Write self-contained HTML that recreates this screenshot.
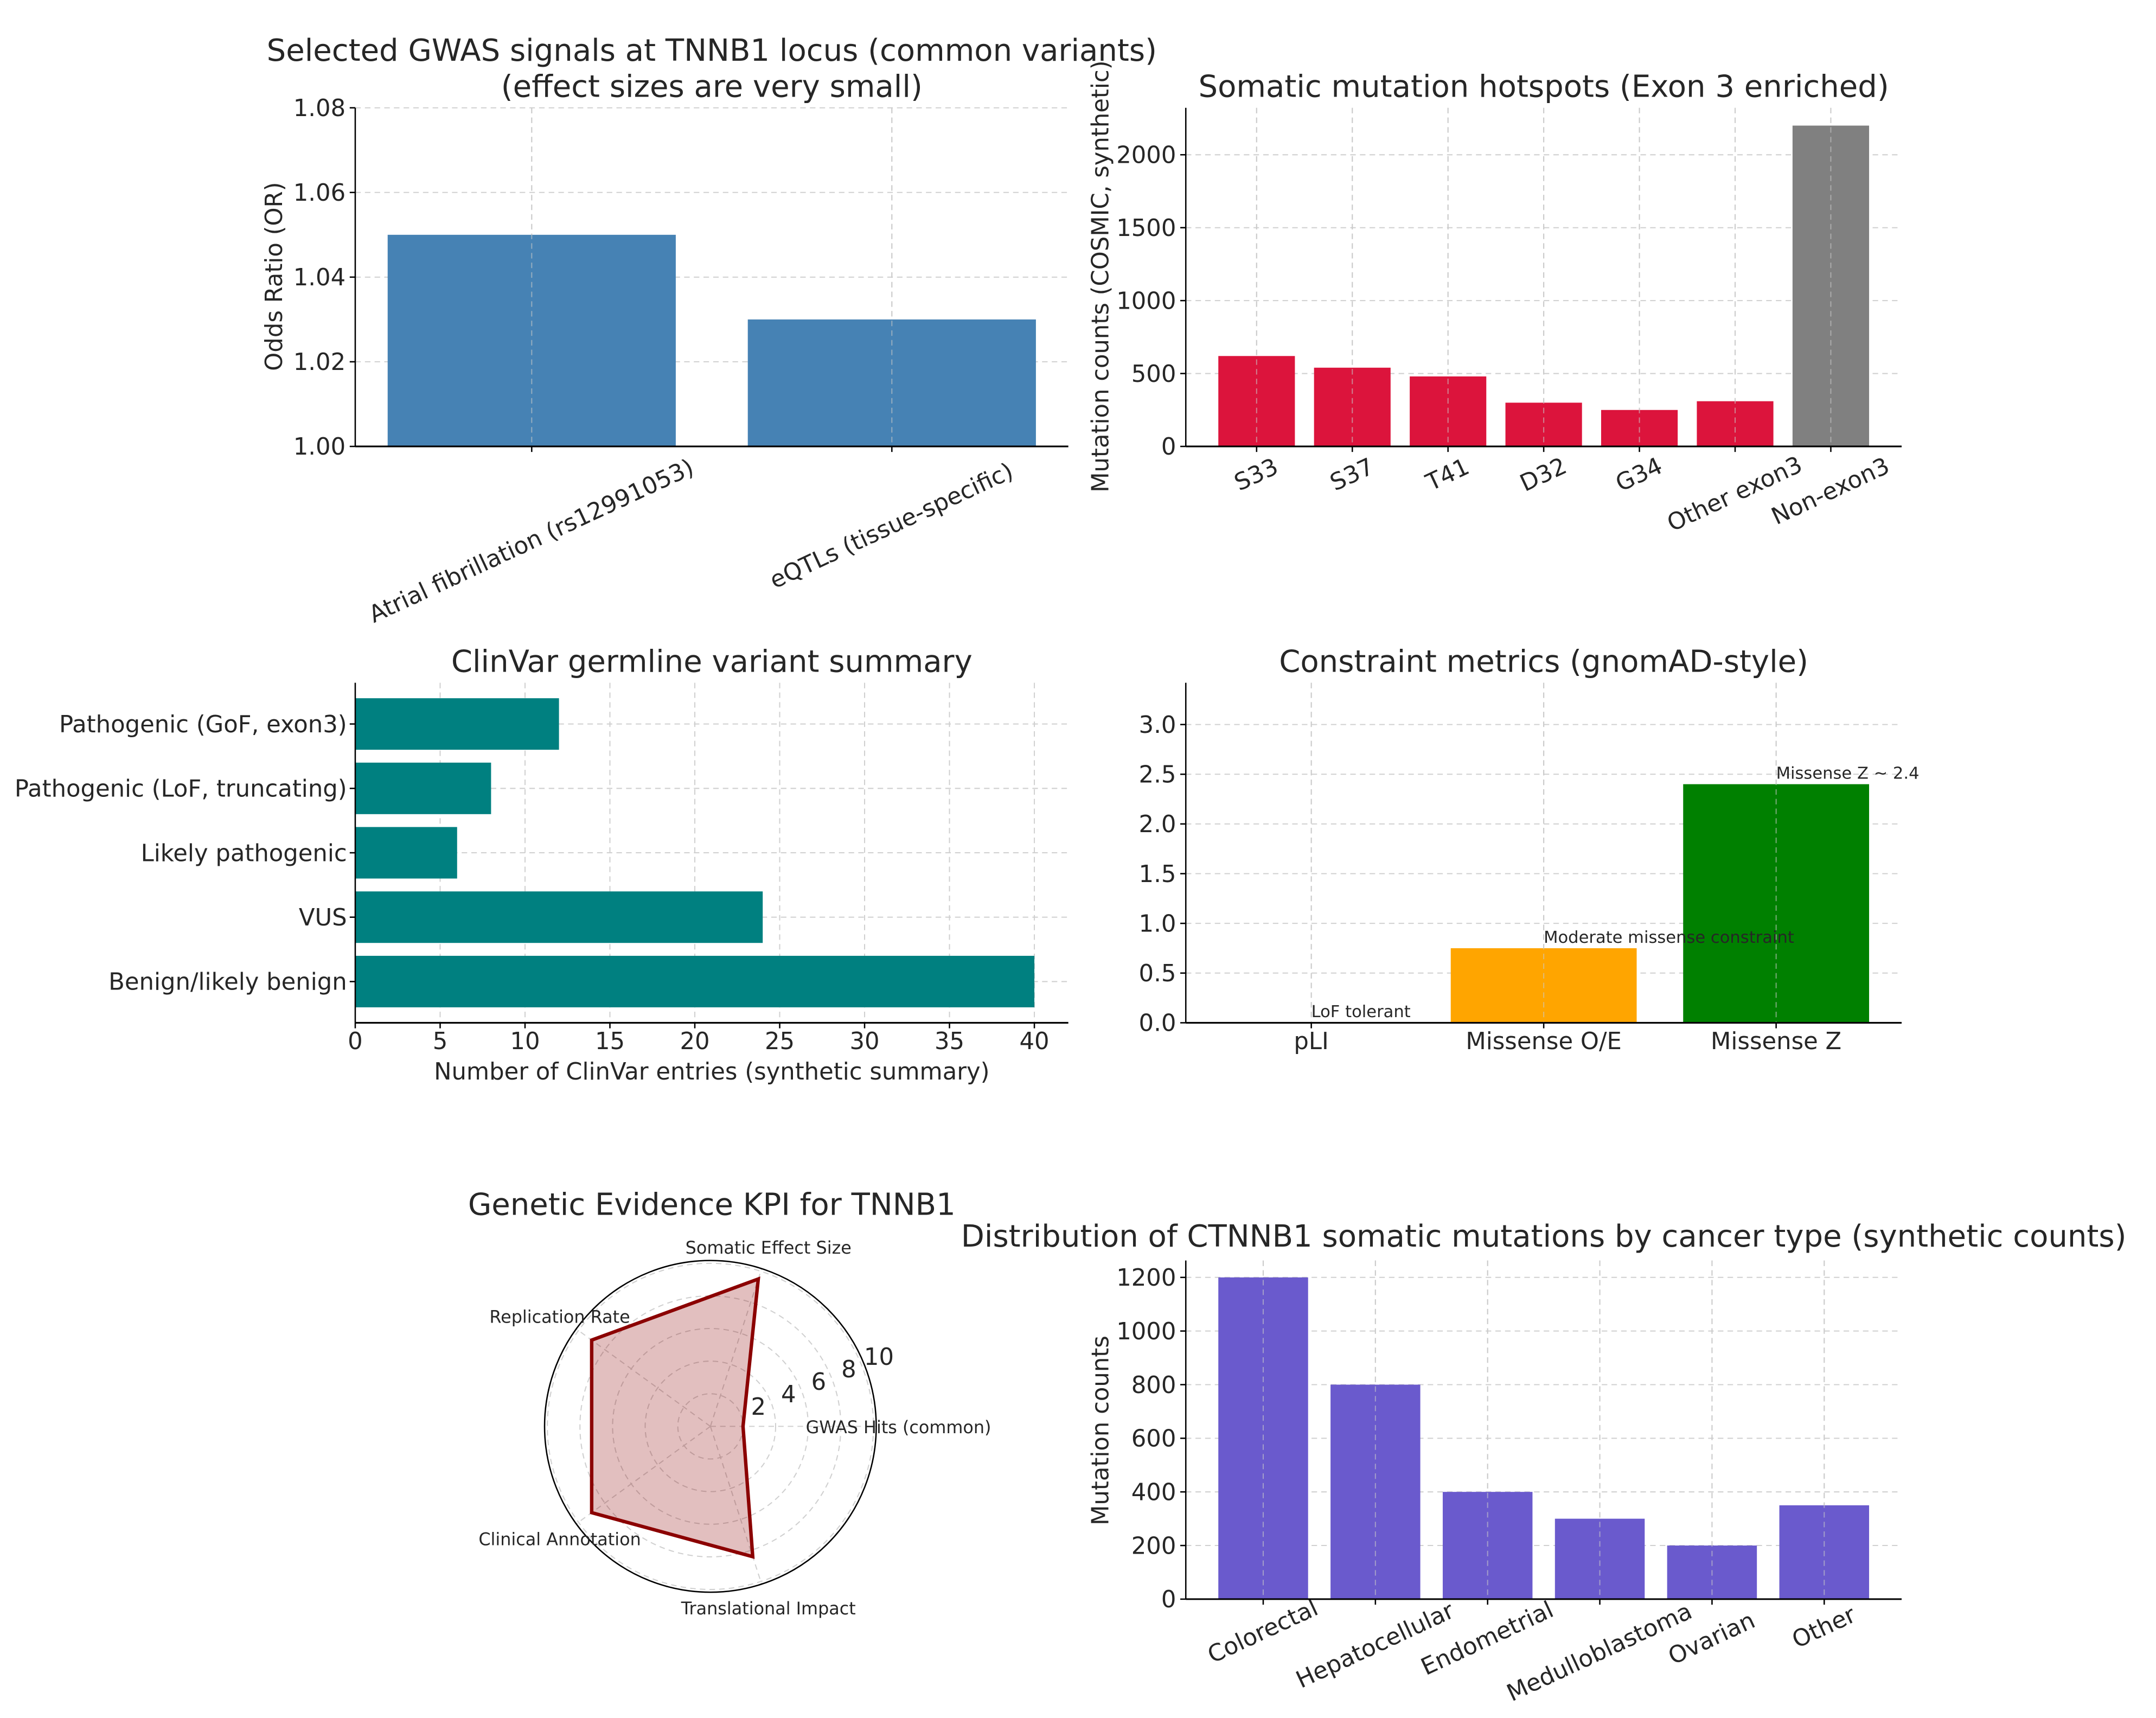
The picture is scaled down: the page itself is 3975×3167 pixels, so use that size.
<!DOCTYPE html>
<html><head><meta charset="utf-8"><style>
html,body{margin:0;padding:0;background:#fff;}
svg{display:block;font-family:"DejaVu Sans","Liberation Sans",sans-serif;}
</style></head><body>
<svg id="fig" width="3975" height="3167" viewBox="0 0 1560 1243" xmlns="http://www.w3.org/2000/svg"></svg>
<script>
// ---- data ----
const gwasCats = ["Atrial fibrillation (rs12991053)", "eQTLs (tissue-specific)"];
const gwasVals = [1.05, 1.03];
const gwasTicks = [1.00, 1.02, 1.04, 1.06, 1.08];
const hotCats = ["S33","S37","T41","D32","G34","Other exon3","Non-exon3"];
const hotVals = [620, 540, 480, 300, 250, 310, 2200];
const hotTicks = [0, 500, 1000, 1500, 2000];
const clinCats = ["Pathogenic (GoF, exon3)","Pathogenic (LoF, truncating)","Likely pathogenic","VUS","Benign/likely benign"];
const clinVals = [12, 8, 6, 24, 40];
const clinTicks = [0,5,10,15,20,25,30,35,40];
const conCats = ["pLI","Missense O/E","Missense Z"];
const conVals = [0.0, 0.75, 2.4];
const conNotes = ["LoF tolerant","Moderate missense constraint","Missense Z ~ 2.4"];
const conTicks = [0,0.5,1.0,1.5,2.0,2.5,3.0];
const kpiCats = ["GWAS Hits (common)","Somatic Effect Size","Replication Rate","Clinical Annotation","Translational Impact"];
const kpiVals = [2, 9.5, 9, 9, 8.4];
const kpiTicks = [2,4,6,8,10];
const canCats = ["Colorectal","Hepatocellular","Endometrial","Medulloblastoma","Ovarian","Other"];
const canVals = [1200, 800, 400, 300, 200, 350];
const canTicks = [0,200,400,600,800,1000,1200];

const NS="http://www.w3.org/2000/svg";
const svg=document.getElementById('fig');
const FS=17;
function mk(tag,attrs,parent,text){const e=document.createElementNS(NS,tag);for(const k in attrs)e.setAttribute(k,attrs[k]);if(text!==undefined)e.textContent=text;(parent||svg).appendChild(e);return e;}
const GRID={stroke:"#d0d0d0","stroke-width":0.8,"stroke-dasharray":"4,3"};
const TXT="#262626";

function title(g,x,y,t,size){const e=mk('text',{x:x,y:y,'text-anchor':'middle','font-size':size||22,fill:TXT},g,t);}
function ylabel(g,x,y,t){const e=mk('text',{x:x,y:y,'text-anchor':'middle','font-size':FS,fill:TXT,transform:`rotate(-90 ${x} ${y})`},g,t);}
function frame(g,L,R,T,B){
  const a=mk('line',{x1:L,y1:T,x2:L,y2:B,stroke:"#000","stroke-width":1},g);
  const b=mk('line',{x1:L,y1:B,x2:R,y2:B,stroke:"#000","stroke-width":1.2},g);
}
function vbars(g,cats,vals,colors,L,R,T,B,ymin,ymax,ticks,fmt,labelPos,rot){
  const n=cats.length;
  const span=(n-1)+0.8+2*0.05*((n-1)+0.8);
  const x0=-0.4-0.05*((n-1)+0.8);
  const xs=i=>L+(i-x0)/span*(R-L);
  const ys=v=>B-(v-ymin)/(ymax-ymin)*(B-T);
  const bw=(xs(0.4)-xs(-0.4));
  ticks.forEach(t=>{const y=ys(t);
    mk('line',Object.assign({x1:L,x2:R,y1:y,y2:y},GRID),g);
    mk('line',{x1:L-4,x2:L,y1:y,y2:y,stroke:"#000"},g);
    const e=mk('text',{x:L-7,y:y+6,'text-anchor':'end','font-size':FS,fill:TXT},g,fmt(t));});
  cats.forEach((c,i)=>{const cx=xs(i);
    mk('line',Object.assign({x1:cx,x2:cx,y1:T,y2:B},GRID),g);});
  cats.forEach((c,i)=>{const cx=xs(i);const y=ys(vals[i]);
    const r=mk('rect',{x:cx-bw/2,y:Math.min(y,B),width:bw,height:Math.abs(B-y),fill:colors[i]},g);
    
    mk('line',Object.assign({x1:cx,x2:cx,y1:T,y2:B},GRID,{stroke:"rgba(200,200,200,0.6)"}),g);
    mk('line',{x1:cx,x2:cx,y1:B,y2:B+4,stroke:"#000"},g);
    const lp=labelPos[i];
    const e=mk('text',{x:cx,y:lp,'text-anchor':'middle','font-size':FS,fill:TXT,transform:rot?`rotate(${rot} ${cx} ${lp-5})`:''},g,c);
    
  });
  frame(g,L,R,T,B);
  return {xs,ys};
}
// ---- chart 1 ----
let g=mk('g',{});
title(g,515,44,"Selected GWAS signals at TNNB1 locus (common variants)");
title(g,515,70,"(effect sizes are very small)");
ylabel(g,204,200,"Odds Ratio (OR)");
vbars(g,gwasCats,gwasVals,["#4682b4","#4682b4"],257,773,78,323,1.0,1.08,gwasTicks,t=>t.toFixed(2),[397,386],-25);
// ---- chart 2 ----
g=mk('g',{});
title(g,1117,70,"Somatic mutation hotspots (Exon 3 enriched)");
ylabel(g,802,200,"Mutation counts (COSMIC, synthetic)");
vbars(g,hotCats,hotVals,hotCats.map(c=>c==="Non-exon3"?"#808080":"#dc143c"),858,1376,78,323,0,2322,hotTicks,t=>String(t),[349,349,349,349,349,363,361],-25);
// ---- chart 3 (horizontal) ----
g=mk('g',{});
title(g,515,486,"ClinVar germline variant summary");
(function(){
  const L=257,R=773,T=494,B=740,xmax=42;
  const xs=v=>L+v/xmax*(R-L);
  const n=clinCats.length;const y0=-0.64,y1=n-1+0.64;
  const ys=i=>T+(i-y0)/(y1-y0)*(B-T);
  const bh=ys(0.4)-ys(-0.4);
  clinTicks.forEach(t=>{const x=xs(t);
    mk('line',Object.assign({x1:x,x2:x,y1:T,y2:B},GRID),g);
    mk('line',{x1:x,x2:x,y1:B,y2:B+4,stroke:"#000"},g);
    const e=mk('text',{x:x,y:B+19,'text-anchor':'middle','font-size':FS,fill:TXT},g,String(t));});
  clinCats.forEach((c,i)=>{const y=ys(i);
    mk('line',Object.assign({x1:L,x2:R,y1:y,y2:y},GRID),g);
    const r=mk('rect',{x:L,y:y-bh/2,width:xs(clinVals[i])-L,height:bh,fill:"#008080"},g);
    
    mk('line',{x1:L-4,x2:L,y1:y,y2:y,stroke:"#000"},g);
    const e=mk('text',{x:L-6,y:y+6,'text-anchor':'end','font-size':FS,fill:TXT},g,c);
  });
  frame(g,L,R,T,B);
  const e=mk('text',{x:515,y:781,'text-anchor':'middle','font-size':FS,fill:TXT},g,"Number of ClinVar entries (synthetic summary)");
})();
// ---- chart 4 ----
g=mk('g',{});
title(g,1117,486,"Constraint metrics (gnomAD-style)");
(function(){
  const a=vbars(g,conCats,conVals,["#4682b4","#ffa500","#008000"],858,1376,494,740,0,3.42,conTicks,t=>t.toFixed(1),[759,759,759],0);
  conCats.forEach((c,i)=>{const e=mk('text',{x:a.xs(i),y:a.ys(conVals[i])-4,'font-size':12,fill:TXT},g,conNotes[i]);});
})();
// ---- chart 5 radar ----
g=mk('g',{});
title(g,515,879,"Genetic Evidence KPI for TNNB1");
(function(){
  const cx=514,cy=1032,sc=11.8,R=120;
  const ang=i=>i*2*Math.PI/kpiCats.length;
  const pt=(i,v)=>[cx+Math.cos(ang(i))*v*sc, cy-Math.sin(ang(i))*v*sc];
  kpiTicks.forEach(t=>{mk('circle',Object.assign({cx:cx,cy:cy,r:t*sc,fill:"none"},GRID),g);});
  kpiCats.forEach((c,i)=>{const p=[cx+Math.cos(ang(i))*R,cy-Math.sin(ang(i))*R];mk('line',Object.assign({x1:cx,y1:cy,x2:p[0],y2:p[1]},GRID),g);});
  mk('circle',{cx:cx,cy:cy,r:R,fill:"none",stroke:"#000","stroke-width":1},g);
  const pts=kpiVals.map((v,i)=>pt(i,v).join(',')).join(' ');
  const p=mk('polygon',{points:pts,fill:"rgba(139,0,0,0.25)",stroke:"#8b0000","stroke-width":2.5},g);
  
  const la=22.5*Math.PI/180;
  kpiTicks.forEach(t=>{const r=t*sc+14;const e=mk('text',{x:cx+Math.cos(la)*r,y:cy-Math.sin(la)*r+6,'text-anchor':'middle','font-size':FS,fill:TXT},g,String(t));});
  const pos=[[583,1037,'start'],[556,907,'middle'],[405,957,'middle'],[405,1118,'middle'],[556,1168,'middle']];
  kpiCats.forEach((c,i)=>{
    const e=mk('text',{x:pos[i][0],y:pos[i][1],'text-anchor':pos[i][2],'font-size':12.5,fill:TXT},g,c);});
})();
// ---- chart 6 ----
g=mk('g',{});
title(g,1117,902,"Distribution of CTNNB1 somatic mutations by cancer type (synthetic counts)");
ylabel(g,802,1035,"Mutation counts");
vbars(g,canCats,canVals,canCats.map(()=>"#6a5acd"),858,1376,912,1157,0,1263,canTicks,t=>String(t),[1186,1196,1191,1201,1191,1183],-25);
</script>
</body></html>
